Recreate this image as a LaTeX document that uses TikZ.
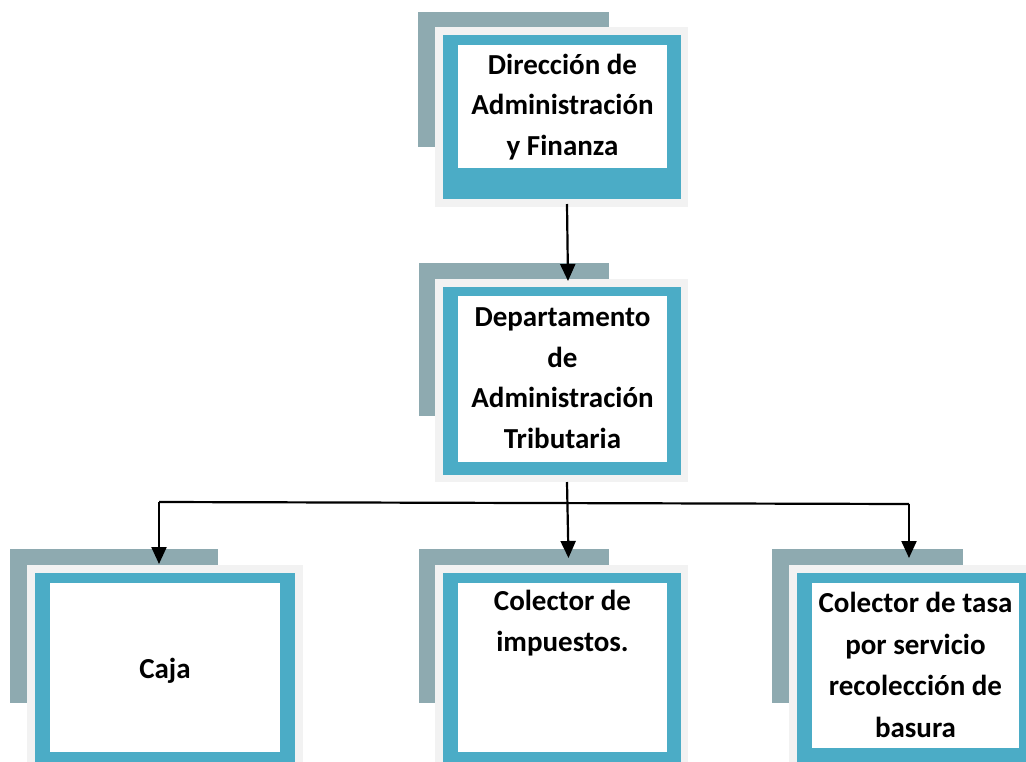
\documentclass[tikz,border=0pt]{standalone}
\usepackage{fontspec}
\setmainfont{Carlito}
\usetikzlibrary{arrows.meta,calc}
\definecolor{backgray}{HTML}{8EAAB0}
\definecolor{framegray}{HTML}{F2F2F2}
\definecolor{tealbox}{HTML}{4BACC6}
\tikzset{
  plate/.style={inner sep=0pt,outer sep=0pt,draw=none},
  backplate/.style={plate,fill=backgray},
  frameplate/.style={plate,fill=framegray},
  tealplate/.style={plate,fill=tealbox},
  whiteplate/.style={plate,fill=white},
  lbl/.style={align=center,inner sep=0pt,font=\bfseries\fontsize{29}{40.5}\selectfont},
  conn/.style={line width=2.2pt,draw=black},
  arr/.style={conn,-{Triangle[width=15pt,length=17pt]}}
}
% style, name, x1, y1, x2, y2
\newcommand\rectnode[6]{%
  \node[#1,minimum width={#5-#3},minimum height={#6-#4}] (#2) at ({(#3+#5)/2},{(#4+#6)/2}) {};}
\begin{document}
\begin{tikzpicture}[x=1pt,y=-1pt]
\useasboundingbox (0,0) rectangle (1026,761);
\clip (0,0) rectangle (1026,761);
% top box
\rectnode{backplate}{dirB}{418}{12}{609}{147}
\rectnode{frameplate}{dir}{435}{27}{688}{207}
\rectnode{tealplate}{dirT}{443}{35}{681}{199}
\rectnode{whiteplate}{dirW}{458}{45}{667}{168}
\node[lbl] (dirL) at (562.5,107) {Dirección de\\Administración\\y Finanza};
% department box
\rectnode{backplate}{depB}{419}{263}{609}{416}
\rectnode{frameplate}{dep}{435}{279}{688}{482}
\rectnode{tealplate}{depT}{443}{287}{681}{475}
\rectnode{whiteplate}{depW}{458}{296}{667}{462}
\node[lbl] (depL) at (562.5,378) {Departamento\\de\\Administración\\Tributaria};
% caja
\rectnode{backplate}{cajaB}{10}{549}{218}{703}
\rectnode{frameplate}{caja}{27}{565}{303}{790}
\rectnode{tealplate}{cajaT}{35}{573}{295}{780}
\rectnode{whiteplate}{cajaW}{50}{583}{280}{752}
\node[lbl] (cajaL) at (165,671) {Caja};
% colector de impuestos
\rectnode{backplate}{impB}{419}{549}{609}{703}
\rectnode{frameplate}{imp}{435}{565}{688}{790}
\rectnode{tealplate}{impT}{443}{573}{681}{780}
\rectnode{whiteplate}{impW}{458}{583}{667}{752}
\node[lbl] (impL) at (562.5,623) {Colector de\\impuestos.};
% colector de tasa
\rectnode{backplate}{tasaB}{772}{549}{963}{703}
\rectnode{frameplate}{tasa}{789}{565}{1045}{790}
\rectnode{tealplate}{tasaT}{797}{573}{1035}{780}
\rectnode{whiteplate}{tasaW}{812}{583}{1019}{748}
\node[lbl,font=\bfseries\fontsize{29}{41.5}\selectfont] (tasaL) at (915.5,665) {Colector de tasa\\por servicio\\recolección de\\basura};
% connectors
\draw[arr] ($(dir.south)+(5.5,-3)$) -- ($(dep.north)+(6.5,2)$);
\coordinate (bl) at (159,502);
\coordinate (br) at (909,504);
\draw[conn] (bl) -- (br);
\draw[arr] ($(dep.south)+(5.5,0)$) -- ($(imp.north)+(7,-7)$);
\draw[arr] (bl) -- ($(caja.north -| bl)+(0,-1)$);
\draw[arr] (br) -- ($(tasa.north -| br)+(0,-7)$);
\end{tikzpicture}
\end{document}
